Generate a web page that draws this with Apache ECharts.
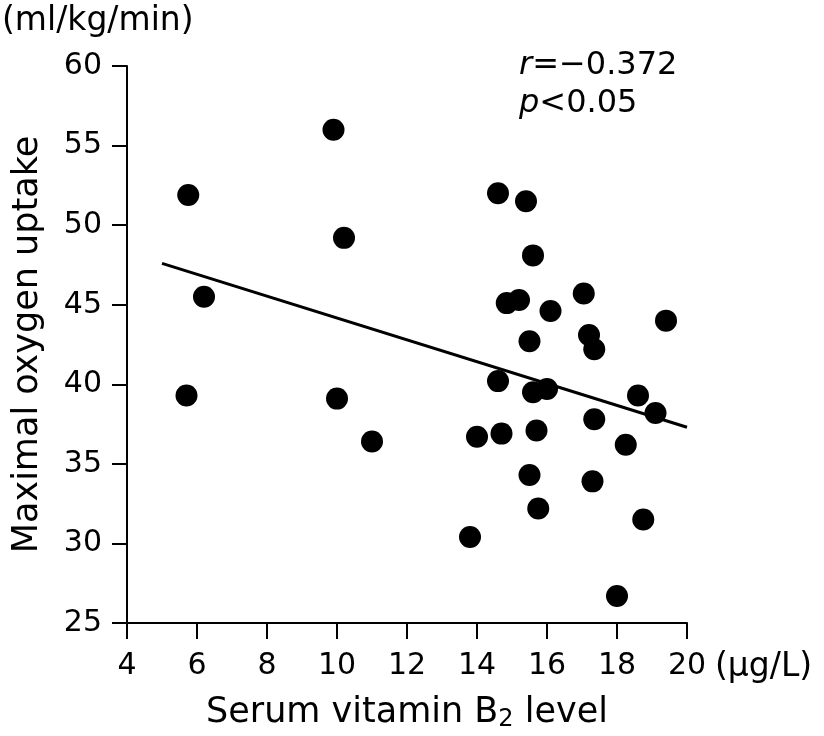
<!DOCTYPE html>
<html>
<head>
<meta charset="utf-8">
<script src="https://cdn.jsdelivr.net/npm/echarts@6/dist/echarts.min.js"></script>
<style>html,body{margin:0;padding:0;background:#fff}#c{width:824px;height:736px}</style>
</head>
<body>
<div id="c"></div>
<script>
// Serum vitamin B2 level (µg/L)
var vitaminB2 = [5.75, 6.2, 5.7, 9.9, 10.2, 10.0, 11.0, 13.8, 14.0, 14.6, 14.6, 14.7, 14.85, 15.2, 15.4, 15.6, 15.5, 15.6, 15.5, 15.7, 15.75, 16.0, 16.1, 17.05, 17.2, 17.35, 17.3, 17.35, 18.25, 18.0, 18.6, 18.75, 19.1, 19.4];
// Maximal oxygen uptake (ml/kg/min)
var vo2max = [51.9, 45.5, 39.3, 56.0, 49.2, 39.1, 36.4, 30.4, 36.7, 52.0, 40.2, 36.9, 45.1, 45.3, 51.5, 48.1, 42.7, 39.5, 34.3, 37.1, 32.2, 39.7, 44.6, 45.7, 43.1, 42.2, 33.9, 37.8, 36.2, 26.7, 39.3, 31.5, 38.2, 44.0];
// regression line end points
var fitX = [5, 20];
var fitY = [47.6, 37.3];
var xTicks = {min: 4, max: 20, interval: 2};
var yTicks = {min: 25, max: 60, interval: 5};

var points = vitaminB2.map(function (x, i) { return [x, vo2max[i]]; });
var fit = fitX.map(function (x, i) { return [x, fitY[i]]; });

var FONT = 'DejaVu Sans';
var chart = echarts.init(document.getElementById('c'));
chart.setOption({
  animation: false,
  backgroundColor: '#fff',
  textStyle: {fontFamily: FONT, color: '#000'},
  title: [
    {text: '(ml/kg/min)', left: -3, top: 0, textStyle: {fontFamily: FONT, fontSize: 33, fontWeight: 'normal', color: '#000'}},
    {text: '(µg/L)', left: 710, top: 646, textStyle: {fontFamily: FONT, fontSize: 33, fontWeight: 'normal', color: '#000'}},
    {text: '{i|r}=−0.372\n{i|p}<0.05', left: 514, top: 42,
     textStyle: {fontFamily: FONT, fontSize: 32, fontWeight: 'normal', color: '#000', lineHeight: 38,
       rich: {i: {fontFamily: FONT, fontSize: 32, fontStyle: 'italic', color: '#000', lineHeight: 38}}}}
  ],
  grid: {left: 127, right: 137, top: 66, bottom: 113, containLabel: false, outerBoundsMode: 'none'},
  xAxis: {
    type: 'value', min: xTicks.min, max: xTicks.max, interval: xTicks.interval,
    name: 'Serum vitamin B{s|2} level', nameLocation: 'middle', nameGap: 71,
    nameTextStyle: {fontFamily: FONT, fontSize: 35, color: '#000',
      rich: {s: {fontFamily: FONT, fontSize: 24, color: '#000', verticalAlign: 'bottom', padding: [14, 0, 0, 0]}}},
    axisLine: {lineStyle: {color: '#000', width: 2}},
    axisTick: {length: 16, lineStyle: {color: '#000', width: 2}},
    axisLabel: {fontFamily: FONT, fontSize: 30, color: '#000', margin: 28},
    splitLine: {show: false}
  },
  yAxis: {
    type: 'value', min: yTicks.min, max: yTicks.max, interval: yTicks.interval,
    name: 'Maximal oxygen uptake', nameLocation: 'middle', nameGap: 82,
    nameTextStyle: {fontFamily: FONT, fontSize: 35, color: '#000'},
    axisLine: {show: true, lineStyle: {color: '#000', width: 2}},
    axisTick: {show: true, length: 15, lineStyle: {color: '#000', width: 2}},
    axisLabel: {fontFamily: FONT, fontSize: 30, color: '#000', margin: 25},
    splitLine: {show: false}
  },
  series: [
    {type: 'scatter', data: points, symbol: 'circle', symbolSize: 22, itemStyle: {color: '#000', opacity: 1}, z: 3},
    {type: 'line', data: fit, symbol: 'none', lineStyle: {color: '#000', width: 3}, z: 2}
  ]
});
</script>
</body>
</html>
